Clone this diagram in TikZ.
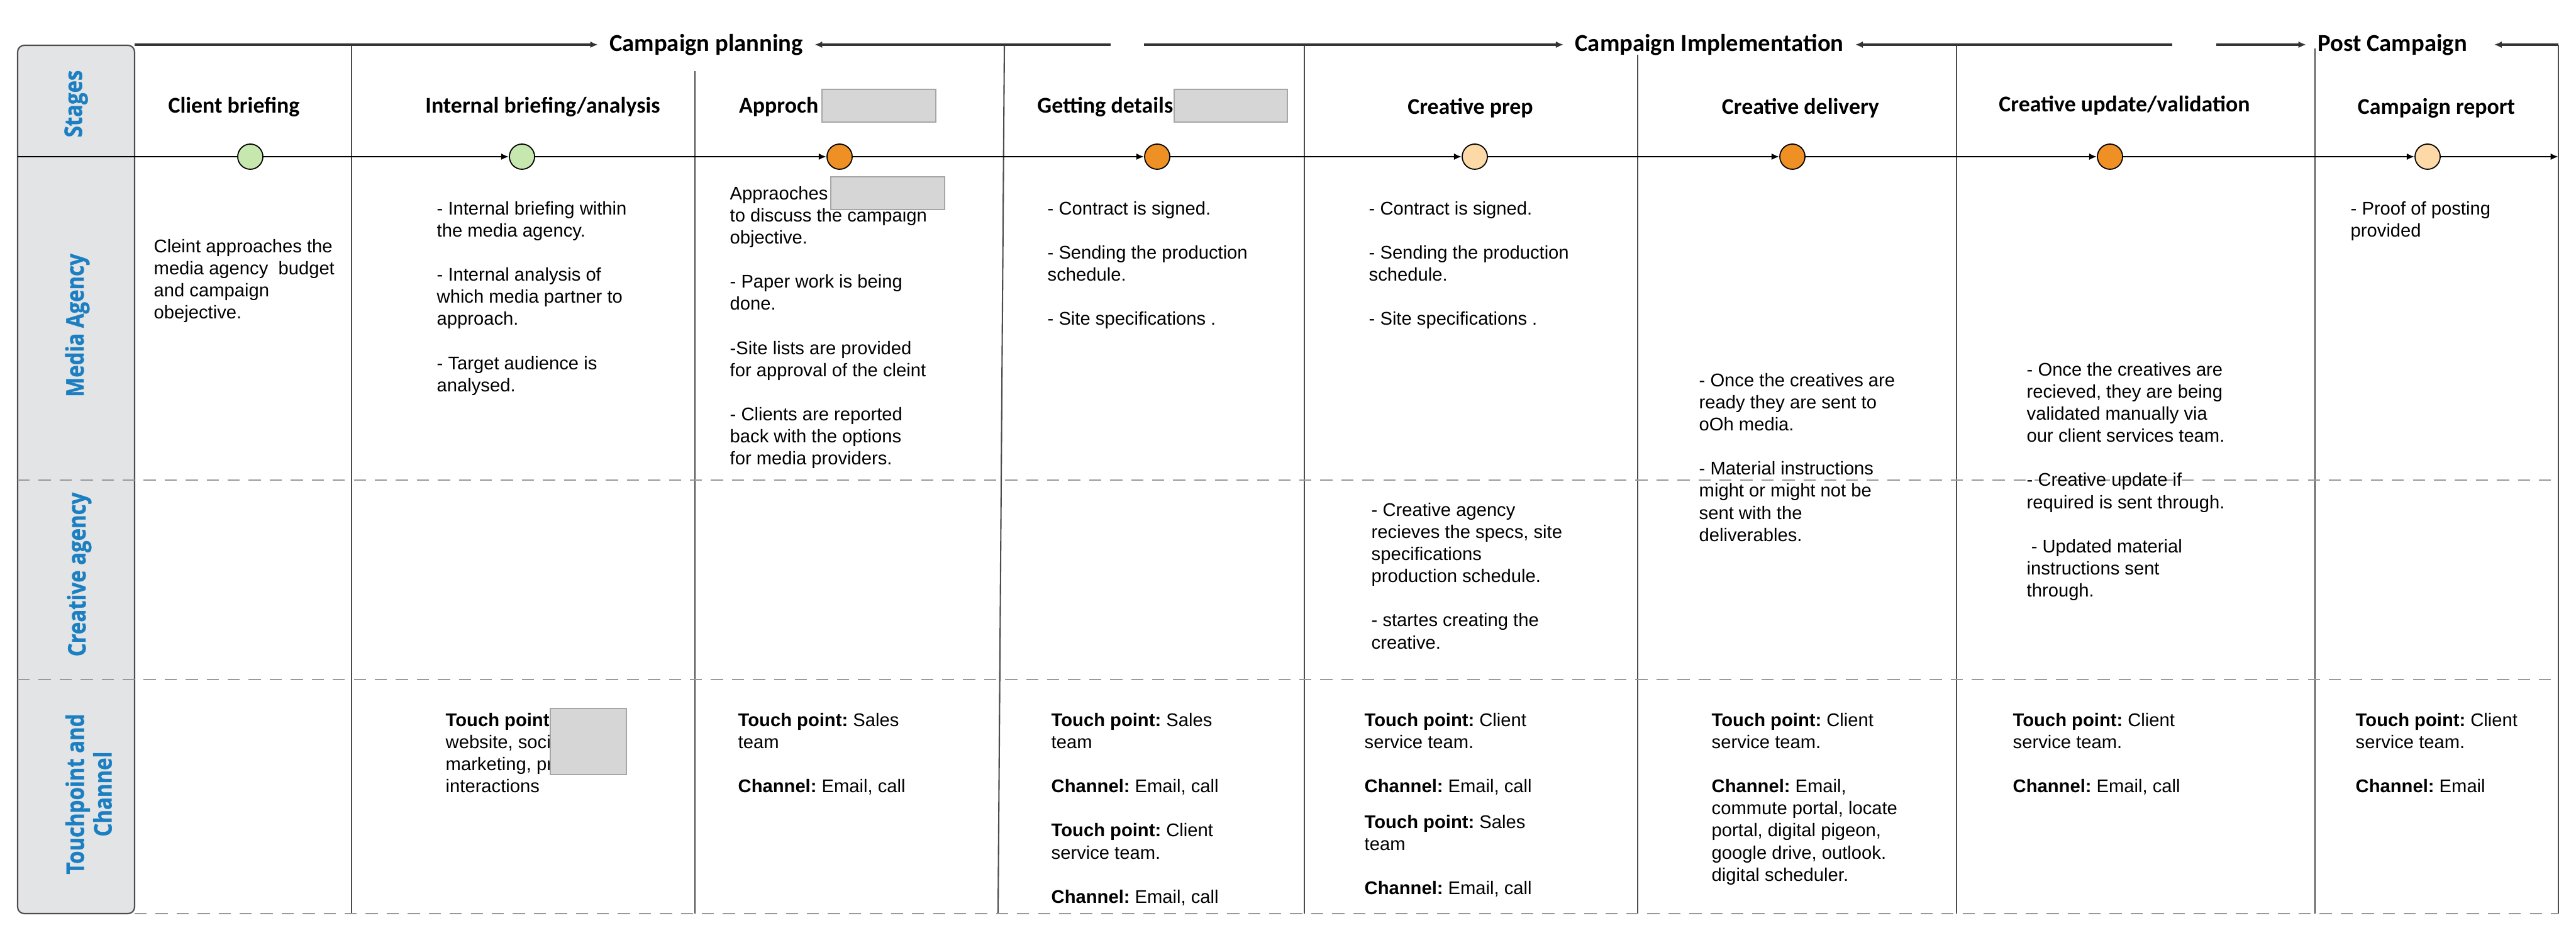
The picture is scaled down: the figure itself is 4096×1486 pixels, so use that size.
\documentclass[tikz,border=0pt]{standalone}
\usepackage{fontspec}
\setmainfont{Liberation Sans}
\newfontfamily\headfont{Carlito}
\newfontfamily\lanefont[FakeStretch=0.85,FakeBold=1]{Open Sans}
\usetikzlibrary{arrows.meta}

\definecolor{lanegray}{HTML}{E3E4E6}
\definecolor{laneblue}{HTML}{1B7FC1}
\definecolor{stgreen}{HTML}{C6E7AE}
\definecolor{storange}{HTML}{EE9024}
\definecolor{stpeach}{HTML}{FCD9A6}
\definecolor{redact}{HTML}{D6D6D6}

\newcommand\cellfont{\fontsize{8.3}{9.96}\selectfont}
\frenchspacing

\begin{document}
\begin{tikzpicture}[x=0.01cm, y=-0.01cm,
    every node/.style={font=\cellfont},
    cell/.style={anchor=north west, inner sep=0pt, align=left},
    stage/.style={font=\headfont\bfseries\fontsize{10.2}{12}\selectfont, inner sep=0pt},
    phase/.style={font=\headfont\bfseries\fontsize{11}{13}\selectfont, inner sep=5pt},
    lane/.style={rotate=90, text=laneblue, align=center, font=\lanefont\bfseries\fontsize{11}{12.5}\selectfont},
    stdot/.style={circle, draw, line width=0.5pt, minimum size=0.4cm, inner sep=0pt},
    flow/.style={line width=0.8pt, -{Latex[length=3.5pt,width=3pt]}},
    phline/.style={line width=0.9pt, draw=black!80, -{Latex[length=3.5pt,width=3pt]}},
    colline/.style={line width=0.6pt, draw=black!70},
    laneline/.style={line width=0.6pt, draw=black!40, dash pattern=on 5.5pt off 4pt},
    redbox/.style={fill=redact, draw=black!35, line width=0.5pt}]

    \useasboundingbox (0,0) rectangle (4096,1486);

    % 泳道标题栏
    \draw[draw=black!70, fill=lanegray, line width=0.6pt, rounded corners=3pt] (28,72) rectangle (214,1452);
    \node[lane] (lstages) at (121,165) {Stages};
    \node[lane] (lmedia) at (123,517) {Media Agency};
    \node[lane] (lcreative) at (126,913) {Creative agency};
    \node[lane] (ltouch) at (141,1262) {Touchpoint and\\Channel};

    % 列分隔线和泳道虚线
    \foreach \x/\y in {559/72, 1105/113, 2074/71, 2604/87, 3111/72, 3681/77, 4068/72}
        \draw[colline] (\x,\y) -- (\x,1452);
    \draw[colline] (1597,71) -- (1587,1452);
    \foreach \y in {763,1080}
        \draw[laneline] (28,\y) -- (4068,\y);
    \draw[laneline] (214,1452) -- (4068,1452);

    % 阶段 (顶部箭头)
    \node[phase] (ph1) at (1123,71) {Campaign planning};
    \node[phase] (ph2) at (2718,71) {Campaign Implementation};
    \node[phase] (ph3) at (3804,71) {Post Campaign};
    \coordinate (a0) at (214,71);
    \coordinate (a1) at (1766,71);
    \coordinate (a2) at (1819,71);
    \coordinate (a3) at (3454,71);
    \coordinate (a4) at (3524,71);
    \coordinate (a5) at (4068,71);
    \draw[phline] (a0) -- (ph1);
    \draw[phline] (a1) -- (ph1);
    \draw[phline] (a2) -- (ph2);
    \draw[phline] (a3) -- (ph2);
    \draw[phline] (a4) -- (ph3);
    \draw[phline, shorten >=7pt] (a5) -- (ph3);

    % 各步骤标题
    \node[stage] (hd1) at (372,170) {Client briefing};
    \node[stage] (hd2) at (863,170) {Internal briefing/analysis};
    \node[stage, anchor=east] (hd3) at (1302,170) {Approch};
    \node[stage, anchor=east] (hd4) at (1866,170) {Getting details};
    \node[stage] (hd5) at (2338,172) {Creative prep};
    \node[stage] (hd6) at (2863,172) {Creative delivery};
    \node[stage] (hd7) at (3378,168) {Creative update/validation};
    \node[stage] (hd8) at (3874,172) {Campaign report};

    % 时间线上的圆点
    \coordinate (tl0) at (28,249);
    \coordinate (tl9) at (4068,249);
    \node[stdot, fill=stgreen] (s1) at (398,249) {};
    \node[stdot, fill=stgreen] (s2) at (830,249) {};
    \node[stdot, fill=storange] (s3) at (1335,249) {};
    \node[stdot, fill=storange] (s4) at (1840,249) {};
    \node[stdot, fill=stpeach] (s5) at (2345,249) {};
    \node[stdot, fill=storange] (s6) at (2850,249) {};
    \node[stdot, fill=storange] (s7) at (3355,249) {};
    \node[stdot, fill=stpeach] (s8) at (3860,249) {};
    \draw[line width=0.8pt] (tl0) -- (s1);
    \foreach \a/\b in {s1/s2, s2/s3, s3/s4, s4/s5, s5/s6, s6/s7, s7/s8, s8/tl9}
        \draw[flow] (\a) -- (\b);

    % Media Agency
    \node[cell] (ma1) at (244,380) {Cleint approaches the\\media agency~ budget\\and campaign\\obejective.};
    \node[cell] (ma2) at (694,320) {- Internal briefing within\\the media agency.\\[9.96pt]- Internal analysis of\\which media partner to\\approach.\\[9.96pt]- Target audience is\\analysed.};
    \node[cell] (ma3) at (1160,296) {Appraoches\\to discuss the campaign\\objective.\\[9.96pt]- Paper work is being\\done.\\[9.96pt]-Site lists are provided\\for approval of the cleint\\[9.96pt]- Clients are reported\\back with the options\\for media providers.};
    \node[cell] (ma4) at (1665,320) {- Contract is signed.\\[9.96pt]- Sending the production\\schedule.\\[9.96pt]- Site specifications .};
    \node[cell] (ma5) at (2176,320) {- Contract is signed.\\[9.96pt]- Sending the production\\schedule.\\[9.96pt]- Site specifications .};
    \node[cell] (ma6) at (2701,593) {- Once the creatives are\\ready they are sent to\\oOh media.\\[9.96pt]- Material instructions\\might or might not be\\sent with the\\deliverables.};
    \node[cell] (ma7) at (3222,576) {- Once the creatives are\\recieved, they are being\\validated manually via\\our client services team.\\[9.96pt]- Creative update if\\required is sent through.\\[9.96pt]\hspace{2pt}- Updated material\\instructions sent\\through.};
    \node[cell] (ma8) at (3737,320) {- Proof of posting\\provided};

    % Creative agency
    \node[cell] (ca5) at (2180,799) {- Creative agency\\recieves the specs, site\\specifications\\production schedule.\\[9.96pt]- startes creating the\\creative.};

    % Touchpoint and Channel
    \node[cell] (tp2) at (708,1133) {\textbf{Touch point:}\\website, soci\\marketing, pr\\interactions};
    \node[cell] (tp3) at (1173,1133) {\textbf{Touch point:} Sales\\team\\[9.96pt]\textbf{Channel:} Email, call};
    \node[cell] (tp4) at (1671,1133) {\textbf{Touch point:} Sales\\team\\[9.96pt]\textbf{Channel:} Email, call\\[9.96pt]\textbf{Touch point:} Client\\service team.\\[9.96pt]\textbf{Channel:} Email, call};
    \node[cell] (tp5) at (2169,1133) {\textbf{Touch point:} Client\\service team.\\[9.96pt]\textbf{Channel:} Email, call\\[6pt]\textbf{Touch point:} Sales\\team\\[9.96pt]\textbf{Channel:} Email, call};
    \node[cell] (tp6) at (2721,1133) {\textbf{Touch point:} Client\\service team.\\[9.96pt]\textbf{Channel:} Email,\\commute portal, locate\\portal, digital pigeon,\\google drive, outlook.\\digital scheduler.};
    \node[cell] (tp7) at (3200,1133) {\textbf{Touch point:} Client\\service team.\\[9.96pt]\textbf{Channel:} Email, call};
    \node[cell] (tp8) at (3745,1133) {\textbf{Touch point:} Client\\service team.\\[9.96pt]\textbf{Channel:} Email};

    % 灰色遮盖块
    \draw[redbox] (1307,142) rectangle (1488,194);
    \draw[redbox] (1867,142) rectangle (2047,194);
    \draw[redbox] (1321,281) rectangle (1502,333);
    \draw[redbox] (875,1126) rectangle (996,1231);

\end{tikzpicture}
\end{document}
